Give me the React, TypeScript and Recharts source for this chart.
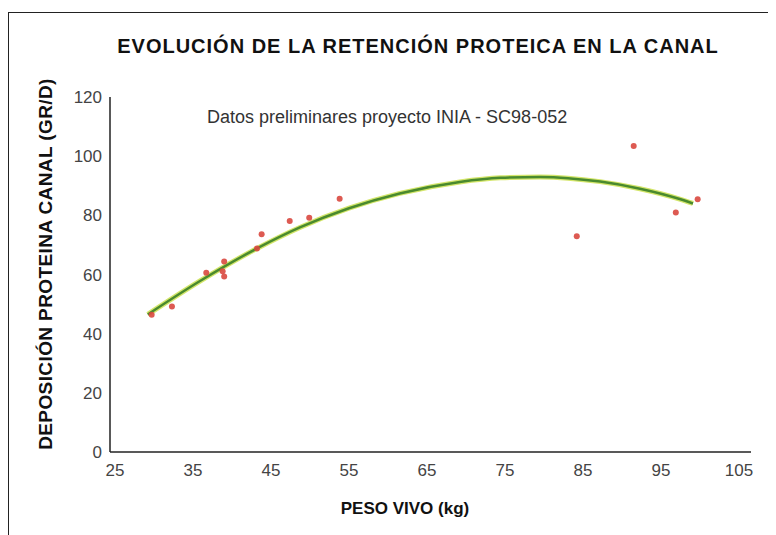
import { ComposedChart, Line, Scatter, XAxis, YAxis } from 'recharts'

type Pt = { x: number; y: number }

// measured points (peso vivo kg, deposición g/d)
const pesoVivo = [29.7, 32.3, 36.7, 39.0, 38.8, 39.0, 43.2, 43.8, 47.4, 49.9, 53.8, 84.2, 91.5, 96.9, 99.7]
const deposicion = [46.4, 49.2, 60.6, 64.4, 61.1, 59.3, 68.8, 73.6, 78.1, 79.2, 85.6, 72.9, 103.4, 81.0, 85.4]

// trend curve
const trendX = [29.2, 35.9, 43.2, 48.7, 55.0, 61.5, 69.2, 74.4, 79.5, 87.2, 92.3, 97.4, 99.1]
const trendY = [46.5, 57.8, 68.8, 75.9, 82.4, 87.4, 91.3, 92.7, 93.0, 91.4, 89.0, 85.5, 84.0]

const xTicks = [25, 35, 45, 55, 65, 75, 85, 95, 105]
const yTicks = [0, 20, 40, 60, 80, 100, 120]

const points: Pt[] = pesoVivo.map((x, i) => ({ x, y: deposicion[i] }))
const trend: Pt[] = trendX.map((x, i) => ({ x, y: trendY[i] }))

const FONT = '"Liberation Sans", Arial, sans-serif'

const Dot = (props: any) => {
  const { cx, cy } = props
  if (cx == null || cy == null) return null
  return <circle cx={cx} cy={cy} r={3} fill="#d9483f" fillOpacity={0.9} />
}

export default function App() {
  return (
    <div style={{ position: 'relative', width: 768, height: 527, fontFamily: FONT, background: '#fff' }}>
      <div
        style={{
          position: 'absolute',
          left: 0,
          top: 4,
          right: 0,
          bottom: 0,
          borderTop: '1.5px solid #222',
          borderLeft: '1.5px solid #222',
        }}
      />
      <div
        style={{
          position: 'absolute',
          top: 27,
          left: 410,
          transform: 'translateX(-50%)',
          whiteSpace: 'nowrap',
          fontSize: 20,
          letterSpacing: 1,
          fontWeight: 'bold',
          color: '#111',
        }}
      >
        EVOLUCIÓN DE LA RETENCIÓN PROTEICA EN LA CANAL
      </div>
      <div
        style={{
          position: 'absolute',
          left: 38,
          top: 256,
          transform: 'translate(-50%, -50%) rotate(-90deg)',
          whiteSpace: 'nowrap',
          fontSize: 19,
          letterSpacing: 0.4,
          fontWeight: 'bold',
          color: '#111',
        }}
      >
        DEPOSICIÓN PROTEINA CANAL (GR/D)
      </div>
      <div
        style={{
          position: 'absolute',
          top: 491,
          left: 397,
          transform: 'translateX(-50%)',
          whiteSpace: 'nowrap',
          fontSize: 17,
          fontWeight: 'bold',
          color: '#111',
        }}
      >
        PESO VIVO (kg)
      </div>
      <div
        style={{
          position: 'absolute',
          top: 99,
          left: 199,
          whiteSpace: 'nowrap',
          fontSize: 18,
          color: '#333',
        }}
      >
        Datos preliminares proyecto INIA - SC98-052
      </div>
      <div style={{ position: 'absolute', left: 0, top: 0 }}>
        <ComposedChart
          width={768}
          height={527}
          margin={{ top: 89, right: 25, bottom: 53, left: 0 }}
        >
          <XAxis
            dataKey="x"
            type="number"
            domain={[25, 105]}
            ticks={xTicks}
            padding={{ left: 5, right: 12 }}
            allowDataOverflow
            tickLine={false}
            axisLine={{ stroke: '#222', strokeWidth: 1.5 }}
            tick={{ fill: '#444', fontSize: 17, fontFamily: FONT }}
            tickMargin={6}
          />
          <YAxis
            dataKey="y"
            type="number"
            domain={[0, 120]}
            ticks={yTicks}
            width={102}
            tickLine={false}
            axisLine={{ stroke: '#222', strokeWidth: 1.5 }}
            tick={{ fill: '#444', fontSize: 17, fontFamily: FONT }}
          />
          <Scatter data={points} dataKey="y" shape={<Dot />} isAnimationActive={false} />
          <Line
            data={trend}
            dataKey="y"
            type="monotone"
            stroke="#d4e66b"
            strokeWidth={5}
            dot={false}
            activeDot={false}
            isAnimationActive={false}
          />
          <Line
            data={trend}
            dataKey="y"
            type="monotone"
            stroke="#4a8a2e"
            strokeWidth={2.5}
            dot={false}
            activeDot={false}
            isAnimationActive={false}
          />
        </ComposedChart>
      </div>
    </div>
  )
}
